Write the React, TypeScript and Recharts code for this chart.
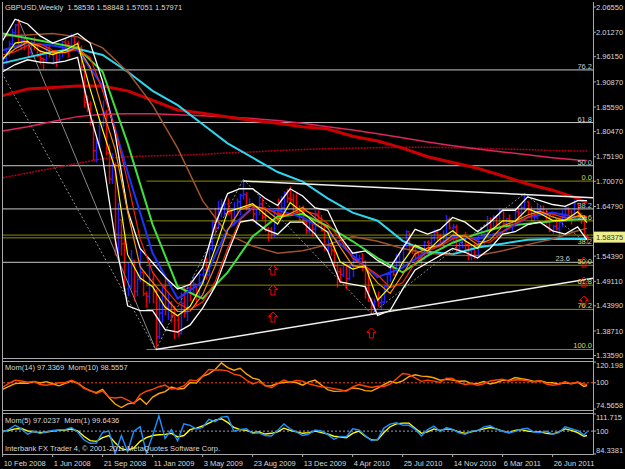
import React from 'react';
import { ComposedChart, Line, Bar, Scatter, XAxis, YAxis, ReferenceLine } from 'recharts';

// GBPUSD weekly, week 0 = 10 Feb 2008, week 187 = last bar
const highs = [
  1.962, 1.975, 1.995, 2.02, 2.03, 2.04, 2.01, 2.0, 1.99, 1.995,
  2.003, 1.99, 1.975, 1.96, 1.985, 1.985, 1.975, 1.972, 1.975, 1.995,
  2.0, 1.995, 2.01, 2.003, 1.995, 1.985, 1.945, 1.88, 1.868, 1.83,
  1.79, 1.83, 1.87, 1.85, 1.778, 1.76, 1.74, 1.655, 1.62, 1.58,
  1.53, 1.557, 1.535, 1.51, 1.56, 1.51, 1.47, 1.53, 1.51, 1.475,
  1.455, 1.485, 1.505, 1.47, 1.45, 1.44, 1.42, 1.468, 1.48, 1.482,
  1.49, 1.505, 1.485, 1.51, 1.52, 1.54, 1.57, 1.62, 1.645, 1.66,
  1.663, 1.66, 1.665, 1.64, 1.657, 1.665, 1.675, 1.705, 1.678, 1.665,
  1.653, 1.65, 1.67, 1.665, 1.64, 1.605, 1.605, 1.64, 1.665, 1.67,
  1.68, 1.685, 1.69, 1.675, 1.678, 1.65, 1.65, 1.62, 1.625, 1.62,
  1.64, 1.64, 1.63, 1.61, 1.58, 1.575, 1.565, 1.53, 1.52, 1.533,
  1.528, 1.528, 1.54, 1.553, 1.547, 1.55, 1.535, 1.515, 1.456, 1.455,
  1.47, 1.459, 1.482, 1.508, 1.52, 1.52, 1.549, 1.55, 1.568, 1.598,
  1.593, 1.57, 1.565, 1.552, 1.551, 1.576, 1.577, 1.587, 1.6, 1.6,
  1.591, 1.598, 1.63, 1.625, 1.612, 1.61, 1.58, 1.585, 1.595, 1.573,
  1.565, 1.57, 1.586, 1.605, 1.593, 1.628, 1.625, 1.63, 1.629, 1.645,
  1.64, 1.624, 1.631, 1.618, 1.64, 1.646, 1.651, 1.675, 1.66, 1.648,
  1.641, 1.652, 1.65, 1.65, 1.642, 1.628, 1.61, 1.616, 1.62, 1.64,
  1.649, 1.646, 1.64, 1.662, 1.655, 1.634, 1.623, 1.58848,
];
const lows = [
  1.935, 1.945, 1.962, 1.985, 2.005, 1.98, 1.975, 1.975, 1.96, 1.96,
  1.975, 1.96, 1.945, 1.935, 1.95, 1.96, 1.945, 1.94, 1.95, 1.96,
  1.975, 1.96, 1.98, 1.985, 1.975, 1.935, 1.855, 1.845, 1.818, 1.745,
  1.74, 1.77, 1.815, 1.755, 1.695, 1.695, 1.545, 1.55, 1.545, 1.47,
  1.46, 1.475, 1.45, 1.46, 1.49, 1.46, 1.436, 1.445, 1.445, 1.348,
  1.37, 1.405, 1.42, 1.41, 1.405, 1.37, 1.375, 1.38, 1.415, 1.408,
  1.45, 1.46, 1.44, 1.46, 1.485, 1.495, 1.5, 1.555, 1.59, 1.6,
  1.625, 1.628, 1.63, 1.605, 1.608, 1.628, 1.63, 1.662, 1.64, 1.635,
  1.615, 1.61, 1.63, 1.62, 1.595, 1.575, 1.58, 1.584, 1.62, 1.63,
  1.635, 1.655, 1.655, 1.635, 1.635, 1.618, 1.61, 1.59, 1.59, 1.585,
  1.59, 1.61, 1.595, 1.555, 1.555, 1.545, 1.52, 1.478, 1.487, 1.5,
  1.474, 1.493, 1.5, 1.531, 1.525, 1.513, 1.455, 1.448, 1.423, 1.428,
  1.438, 1.431, 1.445, 1.469, 1.49, 1.502, 1.505, 1.515, 1.525, 1.562,
  1.55, 1.548, 1.535, 1.53, 1.521, 1.536, 1.556, 1.566, 1.575, 1.574,
  1.564, 1.56, 1.576, 1.6, 1.575, 1.552, 1.553, 1.56, 1.554, 1.535,
  1.535, 1.538, 1.54, 1.58, 1.568, 1.587, 1.595, 1.6, 1.606, 1.606,
  1.608, 1.595, 1.6, 1.596, 1.605, 1.619, 1.62, 1.64, 1.63, 1.616,
  1.611, 1.62, 1.631, 1.63, 1.61, 1.594, 1.59, 1.598, 1.578, 1.604,
  1.62, 1.621, 1.61, 1.622, 1.63, 1.611, 1.582, 1.57051,
];
const closes = [
  1.958, 1.966, 1.988, 2.012, 2.028, 1.985, 1.996, 1.99, 1.97, 1.99,
  1.985, 1.963, 1.957, 1.955, 1.98, 1.968, 1.97, 1.955, 1.97, 1.992,
  1.987, 1.982, 2.003, 1.991, 1.98, 1.94, 1.865, 1.862, 1.825, 1.765,
  1.78, 1.825, 1.845, 1.76, 1.705, 1.735, 1.59, 1.62, 1.57, 1.475,
  1.482, 1.535, 1.47, 1.495, 1.51, 1.465, 1.46, 1.495, 1.47, 1.375,
  1.425, 1.48, 1.437, 1.446, 1.42, 1.41, 1.382, 1.445, 1.425, 1.477,
  1.465, 1.485, 1.465, 1.505, 1.515, 1.505, 1.56, 1.615, 1.603, 1.645,
  1.65, 1.653, 1.635, 1.62, 1.643, 1.658, 1.671, 1.673, 1.646, 1.65,
  1.632, 1.645, 1.653, 1.626, 1.6, 1.597, 1.59, 1.636, 1.633, 1.645,
  1.676, 1.665, 1.662, 1.648, 1.637, 1.62, 1.615, 1.597, 1.615, 1.6,
  1.632, 1.615, 1.598, 1.562, 1.565, 1.556, 1.524, 1.511, 1.505, 1.525,
  1.497, 1.523, 1.535, 1.538, 1.539, 1.532, 1.477, 1.45, 1.438, 1.449,
  1.446, 1.448, 1.48, 1.506, 1.519, 1.505, 1.531, 1.531, 1.568, 1.595,
  1.565, 1.555, 1.55, 1.541, 1.54, 1.573, 1.571, 1.582, 1.593, 1.586,
  1.569, 1.59, 1.62, 1.603, 1.605, 1.558, 1.573, 1.578, 1.568, 1.545,
  1.558, 1.545, 1.583, 1.59, 1.59, 1.613, 1.602, 1.626, 1.61, 1.64,
  1.612, 1.622, 1.605, 1.61, 1.637, 1.634, 1.645, 1.658, 1.64, 1.618,
  1.625, 1.641, 1.642, 1.633, 1.618, 1.597, 1.606, 1.601, 1.616, 1.627,
  1.644, 1.627, 1.626, 1.653, 1.633, 1.621, 1.585, 1.57971,
];
const firstOpen = 1.947;

// moving averages read every 4th week (last point = week 187)
const maYellow = [1.955, 1.99, 1.994, 1.973, 1.966, 1.975, 1.989, 1.894, 1.808, 1.727, 1.547, 1.498, 1.48, 1.437, 1.419, 1.439, 1.487, 1.56, 1.637, 1.645, 1.654, 1.631, 1.611, 1.656, 1.636, 1.612, 1.594, 1.532, 1.517, 1.524, 1.452, 1.48, 1.531, 1.567, 1.555, 1.58, 1.597, 1.576, 1.56, 1.596, 1.618, 1.617, 1.643, 1.633, 1.619, 1.619, 1.637, 1.614];
const maOrange = [1.958, 1.978, 1.992, 1.983, 1.97, 1.97, 1.982, 1.94, 1.85, 1.768, 1.637, 1.522, 1.489, 1.458, 1.428, 1.429, 1.463, 1.523, 1.598, 1.641, 1.65, 1.642, 1.621, 1.633, 1.646, 1.624, 1.603, 1.563, 1.524, 1.52, 1.488, 1.466, 1.505, 1.549, 1.561, 1.567, 1.588, 1.586, 1.568, 1.578, 1.607, 1.617, 1.63, 1.638, 1.626, 1.619, 1.628, 1.624];
const maRed = [1.965, 1.972, 1.985, 1.988, 1.975, 1.97, 1.977, 1.96, 1.89, 1.81, 1.7, 1.58, 1.51, 1.475, 1.445, 1.432, 1.448, 1.49, 1.56, 1.62, 1.645, 1.645, 1.632, 1.63, 1.64, 1.632, 1.612, 1.58, 1.54, 1.523, 1.505, 1.478, 1.488, 1.53, 1.555, 1.565, 1.58, 1.588, 1.575, 1.573, 1.595, 1.612, 1.625, 1.635, 1.632, 1.624, 1.626, 1.627];
const bandUpper = [1.995, 2.04, 2.03, 2.005, 1.99, 2.0, 2.01, 1.99, 1.91, 1.8, 1.64, 1.56, 1.53, 1.5, 1.475, 1.485, 1.52, 1.61, 1.675, 1.685, 1.685, 1.665, 1.65, 1.685, 1.67, 1.645, 1.64, 1.585, 1.55, 1.555, 1.535, 1.52, 1.56, 1.6, 1.59, 1.6, 1.625, 1.615, 1.595, 1.615, 1.64, 1.64, 1.668, 1.66, 1.652, 1.648, 1.66, 1.66];
const bandLower = [1.93, 1.945, 1.955, 1.95, 1.948, 1.952, 1.96, 1.84, 1.75, 1.58, 1.44, 1.43, 1.43, 1.39, 1.385, 1.4, 1.435, 1.48, 1.55, 1.615, 1.62, 1.6, 1.59, 1.615, 1.615, 1.59, 1.555, 1.49, 1.485, 1.48, 1.42, 1.43, 1.475, 1.515, 1.53, 1.545, 1.56, 1.552, 1.54, 1.56, 1.59, 1.595, 1.61, 1.615, 1.597, 1.59, 1.605, 1.578];

// slower averages read every 8th week
const maBlue = [1.975, 1.99, 1.985, 1.975, 1.9, 1.72, 1.55, 1.455, 1.49, 1.6, 1.645, 1.64, 1.625, 1.595, 1.545, 1.5, 1.52, 1.555, 1.585, 1.58, 1.595, 1.625, 1.635, 1.625, 1.625];
const maGreen = [2.01, 2.0, 1.99, 1.98, 1.93, 1.78, 1.61, 1.48, 1.455, 1.51, 1.585, 1.627, 1.632, 1.607, 1.575, 1.54, 1.51, 1.545, 1.572, 1.591, 1.606, 1.612, 1.617, 1.621, 1.622];
const maCyan = [1.948, 1.96, 1.972, 1.978, 1.965, 1.93, 1.89, 1.86, 1.82, 1.78, 1.75, 1.72, 1.7, 1.665, 1.635, 1.618, 1.576, 1.553, 1.548, 1.562, 1.57, 1.578, 1.58, 1.58, 1.58];
const maBrown = [2.005, 2.007, 2.01, 2.003, 1.98, 1.93, 1.86, 1.77, 1.66, 1.59, 1.565, 1.55, 1.555, 1.568, 1.585, 1.575, 1.56, 1.55, 1.546, 1.545, 1.555, 1.568, 1.58, 1.597, 1.602];
const maSlowRed = [1.88, 1.894, 1.897, 1.9, 1.9, 1.89, 1.87, 1.85, 1.843, 1.835, 1.828, 1.822, 1.815, 1.81, 1.795, 1.785, 1.77, 1.752, 1.74, 1.728, 1.712, 1.695, 1.682, 1.665, 1.656];
const maPink = [1.806, 1.815, 1.826, 1.836, 1.841, 1.842, 1.842, 1.84, 1.838, 1.835, 1.832, 1.828, 1.822, 1.815, 1.808, 1.8, 1.792, 1.783, 1.775, 1.768, 1.762, 1.756, 1.75, 1.745, 1.744];
const maDarkRed = [1.708, 1.718, 1.728, 1.738, 1.748, 1.752, 1.754, 1.755, 1.757, 1.76, 1.762, 1.765, 1.767, 1.769, 1.77, 1.771, 1.772, 1.772, 1.771, 1.77, 1.768, 1.767, 1.765, 1.764, 1.764];

const zigzagWeeks = [49, 77, 118, 167, 187];
const zigzagPrices = [1.348, 1.705, 1.423, 1.675, 1.5705];

// drawn objects
const fibWhiteLevels = [1.9338, 1.8236, 1.7332, 1.6428, 1.531];
const fibWhiteTags = ['76.2', '61.8', '50.0', '38.2', '23.6'];
const fibOliveLevels = [1.701, 1.6178, 1.5663, 1.5248, 1.4832, 1.4324, 1.3485];
const fibOliveTags = ['0.0', '23.6', '38.2', '50.0', '61.8', '76.2', '100.0'];
const fibOliveStart = 46;
const oliveLines = [1.588, 1.5822];
const topTrend = [{ x: 77, y: 1.701 }, { x: 188.92, y: 1.666 }];
const bottomTrend = [{ x: 49, y: 1.3485 }, { x: 188.92, y: 1.4975 }];
const grayRay = [{ x: 5, y: 2.04 }, { x: 49, y: 1.348 }];
const grayDotRay = [{ x: -0.2, y: 1.927 }, { x: 49, y: 1.348 }];
const arrowWeeks = [86.5, 86.5, 86.5, 118, 186, 186, 186];
const arrowPrices = [1.5254, 1.4835, 1.427, 1.3935, 1.5421, 1.5003, 1.4605];

const priceTicks = [2.0655, 2.0127, 1.9615, 1.9087, 1.8559, 1.8047, 1.7519, 1.7007, 1.6479, 1.58375, 1.5439, 1.4911, 1.4399, 1.3871, 1.3359];
const bidPrice = 1.58375;

// momentum panels, every 2nd week
const mom14 = [
  93.7, 96.6, 99.2, 99.8, 99.5, 101.3, 99.8, 101.1, 99.1, 97.1,
  99.5, 101.7, 99.7, 95.3, 92.2, 90.4, 93.7, 85.8, 79.4, 76.0,
  79.5, 80.5, 84.8, 79.1, 86.2, 89.6, 91.5, 95.8, 94.0, 94.4,
  100.3, 99.7, 106.3, 108.6, 112.9, 119.4, 114.7, 112.2, 114.1, 108.6,
  104.6, 103.1, 97.0, 97.2, 99.4, 100.3, 101.0, 100.3, 97.7, 100.9,
  102.6, 97.9, 93.4, 91.7, 91.9, 92.7, 95.0, 94.3, 92.4, 91.9,
  94.9, 98.3, 101.5, 99.7, 101.9, 106.0, 107.8, 106.5, 106.1, 104.9,
  102.5, 103.3, 102.6, 101.5, 101.8, 99.2, 99.4, 101.3, 98.9, 100.3,
  102.5, 102.4, 105.1, 103.9, 103.1, 101.4, 102.0, 100.4, 100.1, 98.7,
  99.9, 99.1, 100.5, 96.5, 97.34,
];
const mom10 = [
  95.7, 99.4, 102.4, 101.8, 100.5, 101.4, 98.4, 97.6, 98.7, 100.0,
  100.1, 102.4, 100.0, 94.7, 92.6, 89.6, 92.1, 86.1, 85.3, 86.0,
  83.3, 79.7, 88.6, 91.8, 93.6, 96.2, 97.8, 94.0, 94.7, 96.9,
  102.8, 101.9, 106.7, 112.9, 112.5, 112.6, 111.6, 108.4, 107.1, 102.7,
  98.9, 101.1, 97.4, 95.2, 99.2, 102.7, 100.5, 102.3, 101.6, 98.9,
  97.4, 96.1, 95.6, 94.4, 93.2, 91.7, 96.1, 98.3, 96.9, 95.5,
  96.6, 96.4, 98.7, 103.7, 109.0, 108.2, 104.7, 101.4, 102.6, 101.6,
  100.3, 104.5, 104.2, 100.1, 98.4, 99.3, 97.7, 99.1, 101.8, 102.7,
  103.5, 101.4, 103.0, 102.7, 101.9, 100.8, 102.3, 98.8, 97.6, 98.5,
  101.2, 99.0, 100.9, 98.7, 98.56,
];
const mom5 = [
  99.8, 100.5, 101.5, 101.8, 100.2, 99.6, 99.0, 99.4, 100.1, 100.6,
  100.8, 101.4, 100.2, 96.5, 93.5, 93.0, 95.5, 97.0, 92.0, 88.0,
  87.0, 88.5, 93.0, 95.5, 97.0, 97.5, 97.8, 98.5, 96.0, 97.0,
  101.0, 102.0, 103.5, 105.5, 107.5, 108.5, 106.0, 102.5, 101.0, 100.5,
  99.0, 99.5, 98.0, 98.5, 99.5, 102.0, 100.5, 99.5, 98.5, 99.0,
  100.0, 99.0, 98.0, 96.5, 96.0, 95.5, 98.5, 100.0, 96.5, 94.0,
  94.0, 99.0, 103.0, 105.0, 105.5, 105.5, 102.0, 98.5, 99.5, 101.5,
  100.5, 101.5, 101.0, 99.5, 98.5, 99.5, 100.5, 101.5, 102.5, 101.5,
  100.0, 99.0, 100.5, 101.0, 100.0, 99.5, 99.5, 98.5, 98.0, 99.5,
  101.5, 100.5, 99.0, 96.5, 97.02,
];
const mom1 = [
  99.4, 101.2, 104.0, 101.5, 97.9, 100.0, 98.3, 99.5, 100.4, 100.8,
  101.0, 102.5, 99.4, 94.1, 91.7, 91.8, 99.1, 100.0, 84.5, 97.0,
  86.0, 100.0, 103.0, 85.0, 97.0, 110.5, 95.0, 101.0, 93.4, 105.0,
  103.9, 101.4, 102.6, 108.0, 106.5, 109.6, 110.0, 99.9, 101.1, 101.6,
  98.4, 98.8, 97.0, 96.7, 100.4, 104.9, 101.6, 99.5, 97.0, 98.0,
  100.7, 100.1, 97.8, 94.4, 96.4, 96.2, 101.6, 100.9, 97.0, 93.5,
  94.4, 102.1, 104.8, 105.7, 104.1, 104.0, 101.2, 96.6, 101.0, 103.4,
  99.7, 102.4, 101.2, 98.9, 97.8, 100.0, 100.3, 102.9, 103.7, 101.3,
  99.9, 98.7, 99.8, 101.4, 101.9, 99.4, 99.0, 100.0, 97.9, 99.0,
  102.9, 101.6, 100.4, 97.4, 99.64,
];

const labelWeeks = [0, 16, 32, 48, 64, 80, 96, 112, 128, 144, 160, 176];
const weekLabels = ['10 Feb 2008', '1 Jun 2008', '21 Sep 2008', '11 Jan 2009', '3 May 2009', '23 Aug 2009', '13 Dec 2009', '4 Apr 2010', '25 Jul 2010', '14 Nov 2010', '6 Mar 2011', '26 Jun 2011'];

const X_DOMAIN: [number, number] = [-0.2, 188.92];
const FONT = "'Liberation Sans', Arial, sans-serif";
const TXT = '#d8d8d8';
const FRAME = '#a8a8a8';

const sampleWeeks = (step: number) => {
  const w: number[] = [];
  for (let i = 0; i < 187; i += step) w.push(i);
  w.push(187);
  return w;
};

const mainRows: any[] = closes.map((c, i) => ({
  x: i,
  range: [lows[i], highs[i]],
  high: highs[i],
  low: lows[i],
  open: i === 0 ? firstOpen : closes[i - 1],
  close: c,
}));
const attach = (key: string, step: number, vals: number[]) =>
  sampleWeeks(step).forEach((w, k) => { mainRows[w][key] = vals[k]; });
attach('yellow', 4, maYellow);
attach('orange', 4, maOrange);
attach('red', 4, maRed);
attach('upper', 4, bandUpper);
attach('lower', 4, bandLower);
attach('blue', 8, maBlue);
attach('green', 8, maGreen);
attach('cyan', 8, maCyan);
attach('brown', 8, maBrown);
attach('slowRed', 8, maSlowRed);
attach('pink', 8, maPink);
attach('darkRed', 8, maDarkRed);
zigzagWeeks.forEach((w, k) => { mainRows[w].zz = zigzagPrices[k]; });

const momRows = sampleWeeks(2).map((w, k) => ({ x: w, m14: mom14[k], m10: mom10[k], m5: mom5[k], m1: mom1[k] }));
const arrowRows = arrowWeeks.map((w, k) => ({ x: w, p: arrowPrices[k] }));

function OhlcBar(props: any) {
  const { x, y, width, height, payload } = props;
  if (x == null || y == null || !payload) return null;
  const cx = Math.round(x + width / 2) + 0.5;
  const top = Math.min(y, y + height);
  const h = Math.max(Math.abs(height), 1);
  const span = payload.high - payload.low || 1;
  const py = (v: number) => top + ((payload.high - v) / span) * h;
  const col = payload.close >= payload.open ? '#2020ff' : '#e80000';
  return (
    <g stroke={col} strokeWidth={1.5}>
      <line x1={cx} x2={cx} y1={top} y2={top + h} />
      <line x1={cx - 1.5} x2={cx} y1={py(payload.open)} y2={py(payload.open)} />
      <line x1={cx} x2={cx + 1.5} y1={py(payload.close)} y2={py(payload.close)} />
    </g>
  );
}

function UpArrow(props: any) {
  const { cx, cy } = props;
  if (cx == null || cy == null) return null;
  const pts = [[0, 0], [4.5, 4.5], [2, 4.5], [2, 10], [-2, 10], [-2, 4.5], [-4.5, 4.5]]
    .map(([a, b]) => `${cx + a},${cy + b}`).join(' ');
  return <polygon points={pts} fill="none" stroke="#ff0000" strokeWidth={1} />;
}

function PriceTick(props: any) {
  const { y, payload } = props;
  const v = payload.value as number;
  const hl = v === bidPrice;
  return (
    <g>
      <line x1={593} x2={596} y1={y} y2={y} stroke={FRAME} />
      {hl && <rect x={594} y={y - 5.5} width={34} height={11} fill="#eeee8c" />}
      <text x={596} y={y} dy="0.35em" fontSize={7.5} fontFamily={FONT} fill={hl ? '#3a3a3a' : TXT}>
        {v.toFixed(5)}
      </text>
    </g>
  );
}

const makeSideTick = (top: number, bottom: number) => (props: any) => {
  const { y, payload } = props;
  const ty = Math.min(Math.max(y, top + 3.5), bottom - 3.5);
  return (
    <g>
      <line x1={593} x2={596} y1={y} y2={y} stroke={FRAME} />
      <text x={596} y={ty} dy="0.35em" fontSize={7.5} fontFamily={FONT} fill={TXT}>
        {String(payload.value)}
      </text>
    </g>
  );
};

function DateTick(props: any) {
  const { x, payload } = props;
  const k = labelWeeks.indexOf(payload.value);
  return (
    <g>
      <line x1={x} x2={x} y1={41} y2={44} stroke={FRAME} />
      <text x={x + 1} y={50} dy="0.35em" fontSize={7.5} fontFamily={FONT} fill={TXT}>
        {weekLabels[k]}
      </text>
    </g>
  );
}

const line = (key: string, color: string, width: number, dash?: string) => (
  <Line
    key={key}
    dataKey={key}
    type="linear"
    stroke={color}
    strokeWidth={width}
    strokeDasharray={dash}
    dot={false}
    activeDot={false}
    connectNulls
    isAnimationActive={false}
  />
);

const textStyle = (top: number): React.CSSProperties => ({
  position: 'absolute', left: 5, top, fontSize: 7.5, lineHeight: '10px',
  color: TXT, fontFamily: FONT, whiteSpace: 'pre',
});

const hRule = (top: number) => (
  <div style={{ position: 'absolute', left: 2, top, width: 592, height: 1, background: FRAME }} />
);

export default function App() {
  // the white 23.6 tag sits just left of the olive 50.0 tag so the two do not collide
  const lbl = (value: string, fill: string, shift = 0) => ({
    value, position: 'insideBottomRight' as any, fill, fontSize: 7.5, offset: 1, fontFamily: FONT, dx: shift,
  });
  return (
    <div style={{ position: 'absolute', left: 0, top: 0, width: 625, height: 469, background: '#000', overflow: 'hidden' }}>
      <div style={{ position: 'absolute', left: 0, top: 0 }}>
        <ComposedChart width={625} height={360} data={mainRows} margin={{ top: 2, right: 0, bottom: 2, left: 2 }}>
          <XAxis type="number" dataKey="x" domain={X_DOMAIN} hide allowDataOverflow />
          <YAxis orientation="right" width={32} domain={[1.33067, 2.07597]} ticks={priceTicks} interval={0}
            tick={PriceTick} tickLine={false} axisLine={false} allowDataOverflow />
          {fibWhiteLevels.map((v, k) => (
            <ReferenceLine key={'fw' + k} y={v} stroke="#c8c8c8" strokeWidth={1}
              label={lbl(fibWhiteTags[k], '#c8c8c8', k === fibWhiteLevels.length - 1 ? -22 : 0)} />
          ))}
          {oliveLines.map((v, k) => (
            <ReferenceLine key={'ol' + k} y={v} stroke="#8c8c00" strokeWidth={1} />
          ))}
          {fibOliveLevels.map((v, k) => (
            <ReferenceLine key={'fo' + k} segment={[{ x: fibOliveStart, y: v }, { x: X_DOMAIN[1], y: v }]}
              stroke="#8c8c00" strokeWidth={1} label={lbl(fibOliveTags[k], '#d8d860')} />
          ))}
          <ReferenceLine segment={grayDotRay} stroke="#909090" strokeWidth={1} strokeDasharray="2 2" />
          <ReferenceLine segment={grayRay} stroke="#8a8a8a" strokeWidth={1} />
          <Bar dataKey="range" shape={OhlcBar} barSize={3} isAnimationActive={false} />
          {line('zz', '#8a8a8a', 1, '2 2')}
          {line('darkRed', '#b0001a', 1.5, '2 1')}
          {line('pink', '#e0245e', 1.5)}
          {line('slowRed', '#cc0000', 3)}
          {line('cyan', '#2ed6f0', 2)}
          {line('brown', '#a0522d', 1.5)}
          {line('green', '#3ee03e', 2)}
          {line('blue', '#1e32ff', 2)}
          {line('upper', '#ffffff', 1.3)}
          {line('lower', '#ffffff', 1.3)}
          {line('red', '#ff2200', 1.2)}
          {line('orange', '#ff8c00', 1.2)}
          {line('yellow', '#ffff00', 1.2)}
          <ReferenceLine segment={topTrend} stroke="#f0f0f0" strokeWidth={1.5} />
          <ReferenceLine segment={bottomTrend} stroke="#f0f0f0" strokeWidth={1.5} />
          <Scatter data={arrowRows} dataKey="p" shape={UpArrow} isAnimationActive={false} />
        </ComposedChart>
      </div>

      <div style={{ position: 'absolute', left: 0, top: 361 }}>
        <ComposedChart width={625} height={50} data={momRows} margin={{ top: 1, right: 0, bottom: 2, left: 2 }}>
          <XAxis type="number" dataKey="x" domain={X_DOMAIN} hide allowDataOverflow />
          <YAxis orientation="right" width={32} domain={[74.5658, 120.198]} ticks={[120.198, 100, 74.5658]} interval={0}
            tick={makeSideTick(1, 48)} tickLine={false} axisLine={false} allowDataOverflow />
          <ReferenceLine y={100} stroke="#ff4500" strokeDasharray="2 2" />
          {line('m14', '#ffa500', 1.4)}
          {line('m10', '#ff4500', 1.4)}
        </ComposedChart>
      </div>

      <div style={{ position: 'absolute', left: 0, top: 413 }}>
        <ComposedChart width={625} height={56} data={momRows} margin={{ top: 1, right: 0, bottom: 0, left: 2 }}>
          <XAxis type="number" dataKey="x" domain={X_DOMAIN} ticks={labelWeeks} interval={0} tick={DateTick}
            tickLine={false} axisLine={false} height={15} allowDataOverflow />
          <YAxis orientation="right" width={32} domain={[84.3381, 111.715]} ticks={[111.715, 100, 84.3381]} interval={0}
            tick={makeSideTick(1, 41)} tickLine={false} axisLine={false} allowDataOverflow />
          <ReferenceLine y={100} stroke="#9a9ac8" strokeDasharray="2 2" />
          {line('m5', '#ffff00', 1.4)}
          {line('m1', '#1e90ff', 1.4)}
        </ComposedChart>
      </div>

      <div style={{ position: 'absolute', left: 2, top: 2, width: 1, height: 453, background: FRAME }} />
      <div style={{ position: 'absolute', left: 593, top: 2, width: 1, height: 453, background: FRAME }} />
      {hRule(358)}
      {hRule(361)}
      {hRule(410)}
      {hRule(413)}
      {hRule(454)}

      <div style={textStyle(3)}>{'GBPUSD,Weekly  1.58536 1.58848 1.57051 1.57971'}</div>
      <div style={textStyle(363)}>{'Mom(14) 97.3369  Mom(10) 98.5557'}</div>
      <div style={textStyle(416)}>{'Mom(5) 97.0237  Mom(1) 99.6436'}</div>
      <div style={textStyle(444)}>{'Interbank FX Trader 4, \u00a9 2001-2011 MetaQuotes Software Corp.'}</div>
    </div>
  );
}
